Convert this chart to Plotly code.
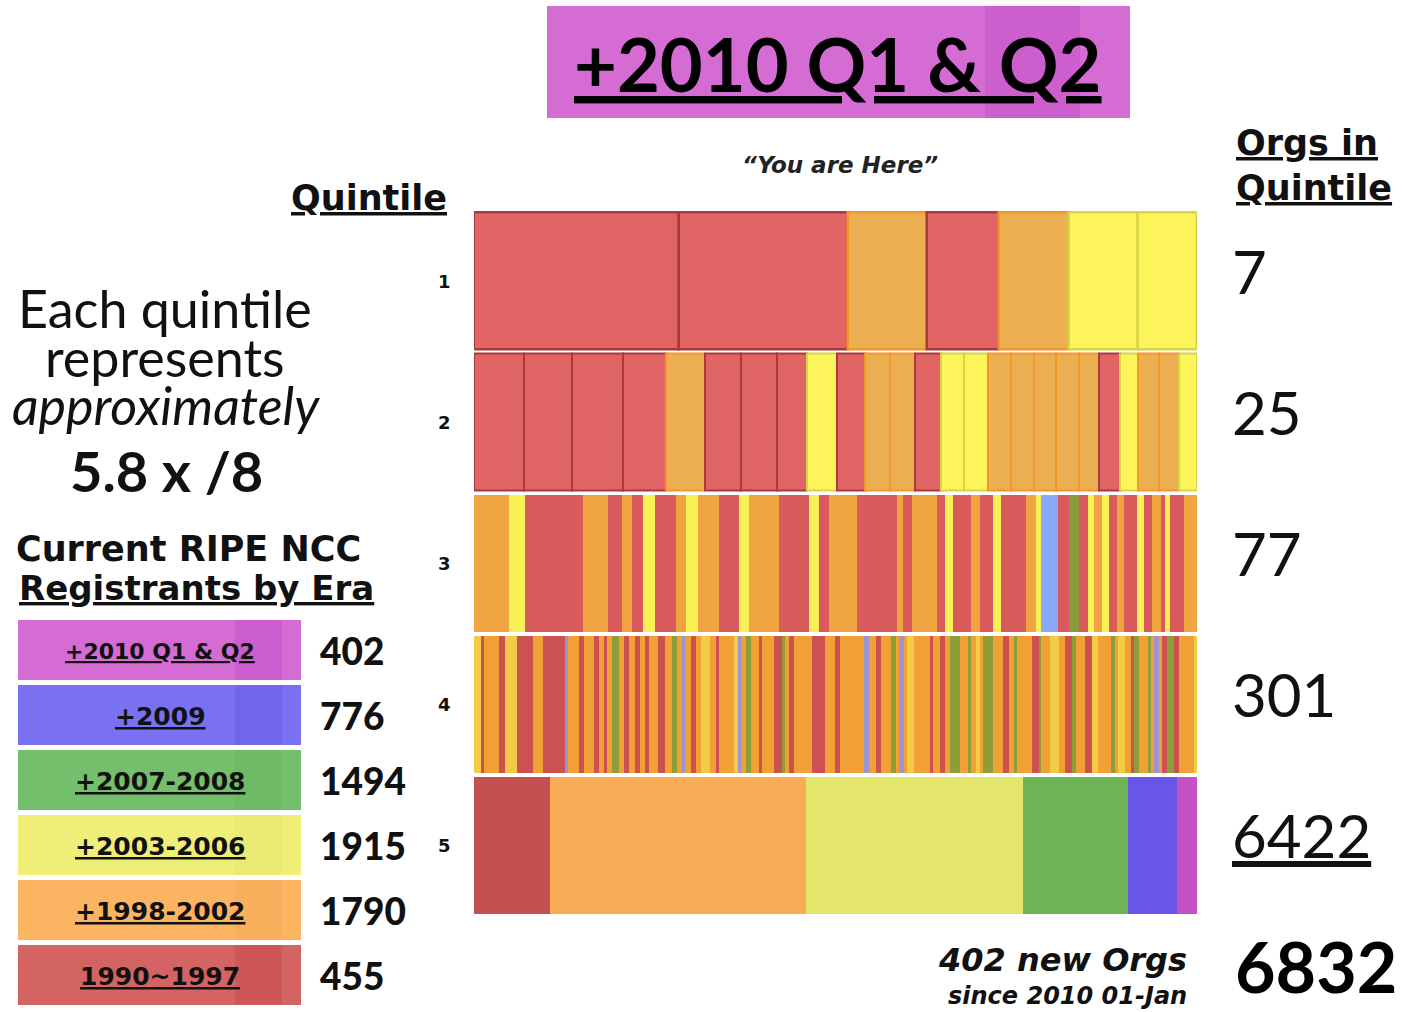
import plotly.graph_objects as go
import numpy as np

# ---------------- data ----------------
ERA_CODES = ["M", "B", "G", "Y", "O", "R"]
ERA_LABELS = ["+2010 Q1 & Q2", "+2009", "+2007-2008", "+2003-2006", "+1998-2002", "1990~1997"]
ERA_COUNTS = [402, 776, 1494, 1915, 1790, 455]

QUINTILES = ["1", "2", "3", "4", "5"]
ORGS_IN_QUINTILE = ["7", "25", "77", "301", "6422"]
TOTAL_ORGS = "6832"
NEW_ORGS = 402

# segment widths (relative address space) and era of each org, per quintile
row1_widths = [437, 360, 170, 152, 150, 148, 125]
row1_eras = ["R", "R", "O", "R", "O", "Y", "Y"]

row2_widths = [107, 103, 107, 93, 82, 77, 78, 63, 64, 60, 53, 53, 55, 50, 52,
               48, 50, 47, 48, 42, 45, 40, 45, 42, 38]
row2_eras = ["R", "R", "R", "R", "O", "R", "R", "R", "Y", "R", "O", "O", "R", "Y", "Y",
             "O", "O", "O", "O", "O", "R", "Y", "O", "O", "Y"]

row3_widths = [55, 50, 50, 55, 40, 45, 35, 40, 35, 40, 30, 35, 35, 30, 35, 30, 35, 30, 35, 30,
               30, 30, 35, 55, 30, 35, 25, 30, 30, 25,
               30, 30, 40, 40, 40, 20, 25, 35, 40, 25, 25, 30, 25, 25, 40, 25, 35, 40, 30, 15,
               50, 35, 30, 25, 20, 25, 20, 25, 20, 40, 20, 25, 25, 15, 15, 40, 40]
row3_eras = ["O", "O", "Y", "R", "R", "R", "R", "O", "O", "R", "O", "R", "Y", "R", "R", "O", "Y", "O", "O", "R",
             "R", "Y", "O", "O", "R", "R", "R", "Y", "R", "O",
             "O", "O", "R", "R", "R", "O", "R", "O", "O", "R", "Y", "R", "R", "O", "R", "Y", "R", "R", "O", "Y",
             "B", "R", "G", "R", "Y", "O", "Y", "R", "O", "R", "Y", "R", "O", "R", "Y", "R", "O"]

row4_widths = [20, 10, 15, 30, 20, 35, 50, 20, 10, 65, 10, 35, 15, 15, 15, 15, 15, 10, 15, 20,
               15, 15, 20, 15, 15, 10, 20, 10, 20, 20, 15, 15, 10, 20, 15, 15, 25, 20,
               10, 20, 25, 10, 10, 15, 15, 15, 10, 10, 15, 20, 25, 10, 10, 15, 10, 25, 20, 40,
               30, 15, 75, 15, 20, 15, 30, 15, 10, 15, 10, 20, 25, 25, 10, 20, 15, 15, 30,
               25, 10, 15, 10, 10, 15, 15, 30, 20, 15, 8, 7, 40, 20, 7, 8, 20, 25, 20, 20,
               12, 13, 15, 20, 20, 20, 20, 10, 10, 20, 20, 10, 15, 25, 10, 10, 15, 10, 15,
               20, 15, 15, 30, 10]
row4_eras = ["Y", "R", "O", "O", "R", "Y", "R", "O", "O", "R", "B", "O", "R", "O", "O", "R", "O", "R", "O", "G",
             "O", "R", "O", "R", "O", "R", "O", "O", "R", "O", "G", "O", "B", "O", "R", "O", "Y", "O",
             "R", "O", "O", "Y", "B", "O", "G", "O", "O", "R", "O", "O", "R", "G", "O", "R", "O", "O", "O", "R",
             "O", "R", "O", "B", "O", "R", "O", "G", "O", "B", "O", "Y", "O", "O", "R", "O", "R", "O", "G",
             "O", "G", "O", "Y", "O", "G", "G", "O", "R", "O", "G", "O", "O", "R", "G", "O", "O", "Y", "O", "R",
             "G", "O", "O", "R", "Y", "O", "O", "G", "O", "Y", "O", "R", "G", "O", "G", "O", "B", "O", "R",
             "G", "R", "O", "O", "Y"]

row5_widths = [162, 545, 463, 222, 105, 43]
row5_eras = ["R", "O", "Y", "G", "B", "M"]

ROWS = [(row1_widths, row1_eras), (row2_widths, row2_eras), (row3_widths, row3_eras),
        (row4_widths, row4_eras), (row5_widths, row5_eras)]

# ---------------- styles ----------------
W, H = 1404, 1012
def px(x): return x / W
def py(y): return 1 - y / H

FONT = "Lato"
WIDE = "DejaVu Sans"

PAL = [
    {"R": "#e26565", "O": "#ebae50", "Y": "#fcf45a", "G": "#7ab04a", "B": "#8ca6f6", "M": "#c050c0"},
    {"R": "#e26565", "O": "#ebae50", "Y": "#fcf45a", "G": "#7ab04a", "B": "#8ca6f6", "M": "#c050c0"},
    {"R": "#d95a5a", "O": "#f0a542", "Y": "#f8f055", "G": "#8a9a3a", "B": "#8ca8fa", "M": "#c050c0"},
    {"R": "#cc5252", "O": "#f0a035", "Y": "#f2cc45", "G": "#8c9e3a", "B": "#9a94d8", "M": "#c050c0"},
    {"R": "#c25050", "O": "#f9ab55", "Y": "#e3e66a", "G": "#6db556", "B": "#6a55ea", "M": "#c452c4"},
]
LINE_PAL = {"R": "#a83a3a", "O": "#f5962a", "Y": "#d8d44a", "G": "#5a9040", "B": "#6a80d0", "M": "#a040a0"}
LINE_W = [2.5, 2, 0, 0, 0]

LEG_COL = {"M": "#d46cd4", "B": "#7a70f2", "G": "#74bf6c", "Y": "#eeee78", "O": "#fbb562", "R": "#d46464"}
LEG_BAND = {"M": "#c653c9", "B": "#6a5ee8", "G": "#6cb864", "Y": "#e8e86e", "O": "#f8ae58", "R": "#cc4c4c"}

fig = go.Figure()

for i, (widths, eras) in enumerate(ROWS):
    w = np.array(widths, dtype=float)
    frac = w / w.sum()
    starts = np.concatenate([[0], np.cumsum(frac)[:-1]])
    fig.add_trace(go.Bar(
        y=[i + 1] * len(w), x=frac, base=starts, orientation="h",
        width=0.965,
        marker=dict(color=[PAL[i][e] for e in eras],
                    line=dict(color=[LINE_PAL[e] for e in eras], width=LINE_W[i])),
        showlegend=False, hoverinfo="skip",
    ))

shapes = []
ann = []

# title box
shapes.append(dict(type="rect", xref="paper", yref="paper", x0=px(547), x1=px(1130), y0=py(118), y1=py(6),
                   fillcolor="#d46cd4", line=dict(width=0), layer="below"))
shapes.append(dict(type="rect", xref="paper", yref="paper", x0=px(985), x1=px(1080), y0=py(118), y1=py(6),
                   fillcolor="#c650c6", line=dict(width=0), layer="below", opacity=0.5))
ann.append(dict(x=px(838), y=py(64), text="<b><u>+2010 Q1 & Q2</u></b>", showarrow=False,
                font=dict(family=FONT, size=74, color="black", weight=900)))

ann.append(dict(x=px(840), y=py(165), text="<b><i>“You are Here”</i></b>", showarrow=False,
                font=dict(family=WIDE, size=23, color="#222")))

ann.append(dict(x=px(449), y=py(198), xanchor="right", text="<b><u>Quintile</u></b>", showarrow=False,
                font=dict(family=WIDE, size=35, color="#111")))
ann.append(dict(x=px(1234), y=py(143), xanchor="left", text="<b><u>Orgs in</u></b>", showarrow=False,
                font=dict(family=WIDE, size=35, color="#111")))
ann.append(dict(x=px(1234), y=py(188), xanchor="left", text="<b><u>Quintile</u></b>", showarrow=False,
                font=dict(family=WIDE, size=35, color="#111")))

# quintile labels and org counts
for i, (q, n) in enumerate(zip(QUINTILES, ORGS_IN_QUINTILE)):
    ann.append(dict(x=px(453), xref="paper", y=i + 1, yref="y", xanchor="right", text=f"<b>{q}</b>",
                    showarrow=False, font=dict(family=WIDE, size=18, color="#111")))
    t = f"<u>{n}</u>" if i == len(QUINTILES) - 1 else n
    ann.append(dict(x=px(1230), xref="paper", y=i + 1, yref="y", xanchor="left", yshift=10, text=t,
                    showarrow=False, font=dict(family=FONT, size=60, color="#111", weight=400)))

ann.append(dict(x=px(1233), y=py(966), xanchor="left", text=f"<b>{TOTAL_ORGS}</b>", showarrow=False,
                font=dict(family=FONT, size=70, color="black", weight=900)))
ann.append(dict(x=px(1189), y=py(960), xanchor="right", text=f"<b><i>{NEW_ORGS} new Orgs</i></b>",
                showarrow=False, font=dict(family=WIDE, size=32, color="#111")))
ann.append(dict(x=px(1189), y=py(996), xanchor="right", text="<b><i>since 2010 01-Jan</i></b>",
                showarrow=False, font=dict(family=WIDE, size=24, color="#111")))

# left text
ann.append(dict(x=px(165), y=py(308), text="Each quintile", showarrow=False,
                font=dict(family=FONT, size=52, color="#111")))
ann.append(dict(x=px(165), y=py(357), text="represents", showarrow=False,
                font=dict(family=FONT, size=52, color="#111")))
ann.append(dict(x=px(166), y=py(405), text="<i>approximately</i>", showarrow=False,
                font=dict(family=FONT, size=52, color="#111")))
ann.append(dict(x=px(166), y=py(470), text="<b>5.8 x /8</b>", showarrow=False,
                font=dict(family=FONT, size=56, color="#111", weight=900)))
ann.append(dict(x=px(14), y=py(549), xanchor="left", text="<b>Current RIPE NCC</b>", showarrow=False,
                font=dict(family=WIDE, size=35, color="#111")))
ann.append(dict(x=px(17), y=py(588), xanchor="left", text="<b><u>Registrants by Era</u></b>", showarrow=False,
                font=dict(family=WIDE, size=34, color="#111")))

# era legend
for k, (code, lab, cnt) in enumerate(zip(ERA_CODES, ERA_LABELS, ERA_COUNTS)):
    top = 620 + k * 65
    shapes.append(dict(type="rect", xref="paper", yref="paper", x0=px(18), x1=px(301),
                       y0=py(top + 60), y1=py(top), fillcolor=LEG_COL[code], line=dict(width=0)))
    shapes.append(dict(type="rect", xref="paper", yref="paper", x0=px(235), x1=px(282),
                       y0=py(top + 60), y1=py(top), fillcolor=LEG_BAND[code], line=dict(width=0),
                       opacity=0.6))
    size = 22 if k == 0 else 25
    ann.append(dict(x=px(160), y=py(top + 31), text=f"<b><u>{lab}</u></b>", showarrow=False,
                    font=dict(family=WIDE, size=size, color="#111")))
    ann.append(dict(x=px(318), y=py(top + 30), xanchor="left", text=str(cnt), showarrow=False,
                    font=dict(family=FONT, size=37, color="#111", weight=900)))

for a in ann:
    a.setdefault("xref", "paper")
    a.setdefault("yref", "paper")
    a.setdefault("xanchor", "center")
    a.setdefault("yanchor", "middle")

fig.update_layout(
    width=W, height=H, margin=dict(l=0, r=0, t=0, b=0),
    paper_bgcolor="white", plot_bgcolor="white",
    barmode="overlay", bargap=0,
    xaxis=dict(domain=[px(474), px(1197)], range=[0, 1], visible=False, fixedrange=True),
    yaxis=dict(domain=[py(915.5), py(210.5)], range=[5.5, 0.5], visible=False, fixedrange=True),
    shapes=shapes, annotations=ann, showlegend=False,
)

fig.write_html("out.html", config={"displayModeBar": False},
               post_script="document.body.style.margin='0';document.body.style.overflow='hidden';")
